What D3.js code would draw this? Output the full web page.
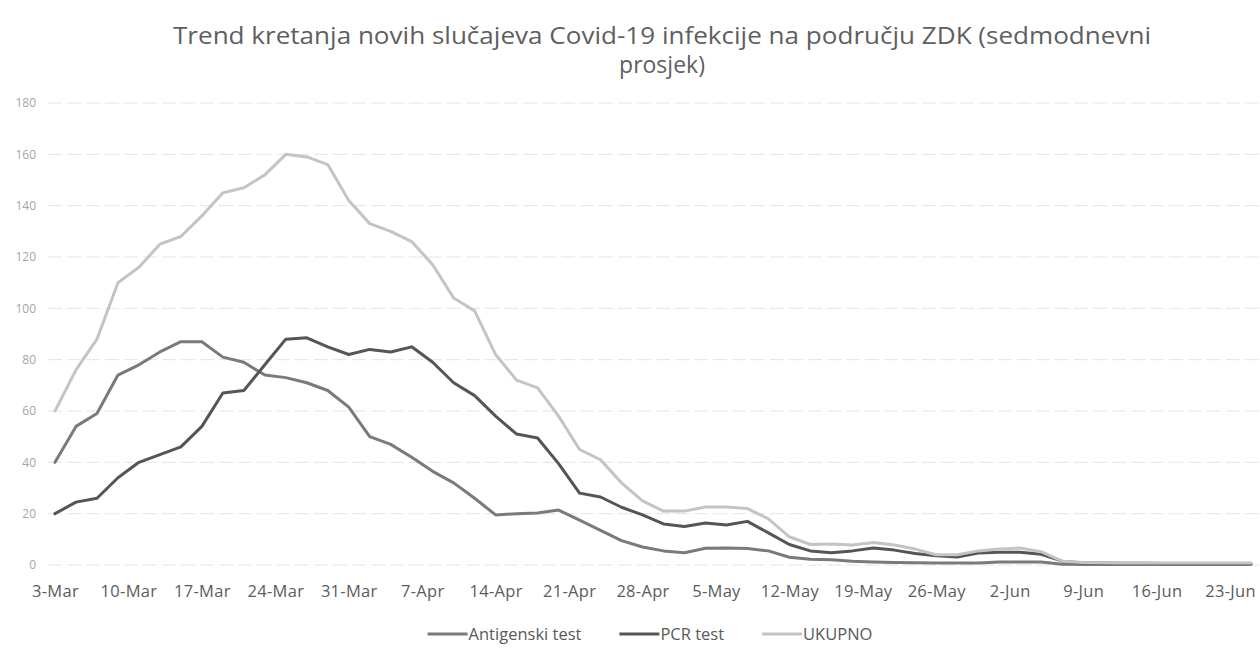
<!DOCTYPE html>
<html>
<head>
<meta charset="utf-8">
<script src="https://cdn.jsdelivr.net/npm/d3@7"></script>
<style>
  html, body { margin: 0; padding: 0; background: #ffffff; }
  svg { display: block; }
</style>
</head>
<body>
<svg id="chart" width="1260" height="656"></svg>
<script>
// ---- Data (7-day averages; one value every 2 days from 3-Mar) ----
const startDate = "2021-03-03";
const stepDays = 2;
const antigenski = [40, 54, 59, 74, 78, 83, 87, 87, 81, 79, 74, 73, 71, 68, 61.5, 50, 47, 42, 36.5, 32,
  26, 19.5, 20, 20.3, 21.4, 17.5, 13.5, 9.5, 7, 5.5, 4.8, 6.5, 6.6, 6.4, 5.5, 3, 2.2, 2, 1.5, 1.2,
  1, 0.9, 0.8, 0.8, 0.8, 1.2, 1.2, 1.2, 0.3, 0.2, 0.2, 0.2, 0.2, 0.2, 0.2, 0.2, 0.2, 0.2];
const pcr = [20, 24.5, 26, 34, 40, 43, 46, 54, 67, 68, 78, 88, 88.5, 85, 82, 84, 83, 85, 79, 71,
  66, 58, 51, 49.5, 39.5, 28, 26.5, 22.5, 19.5, 16, 15, 16.4, 15.6, 17, 12.5, 8, 5.5, 4.8, 5.5, 6.6,
  5.8, 4.5, 3.6, 3.1, 4.7, 5, 5, 4.2, 1.5, 0.8, 0.8, 0.7, 0.7, 0.6, 0.6, 0.6, 0.6, 0.6];
const ukupno = [60, 76, 88, 110, 116, 125, 128, 136, 145, 147, 152, 160, 159, 156, 142, 133, 130, 126, 117, 104,
  99, 82, 72, 69, 58, 45, 41, 32, 25, 21, 21, 22.6, 22.6, 22, 18, 11, 8, 8.2, 7.8, 8.8,
  7.8, 6.2, 4, 4, 5.5, 6.2, 6.6, 5.2, 1.5, 1, 0.9, 0.8, 0.8, 0.8, 0.8, 0.8, 0.8, 0.8];
const seriesNames = ["Antigenski test", "PCR test", "UKUPNO"];
const seriesColors = ["#7a7a7a", "#555555", "#c4c4c4"];
const yTicks = [0, 20, 40, 60, 80, 100, 120, 140, 160, 180];
const xTickStart = "2021-03-03";
const xTickEnd = "2021-06-23";
const titleLines = ["Trend kretanja novih slučajeva Covid-19 infekcije na području ZDK (sedmodnevni", "prosjek)"];

// ---- Build ----
const parse = d3.timeParse("%Y-%m-%d");
const t0 = parse(startDate);
const dates = antigenski.map((_, i) => d3.timeDay.offset(t0, i * stepDays));
const series = [antigenski, pcr, ukupno].map((vals, s) => ({
  name: seriesNames[s], color: seriesColors[s],
  points: vals.map((v, i) => ({ date: dates[i], value: v }))
}));

const svg = d3.select("#chart");
const x = d3.scaleTime()
  .domain([parse(xTickStart), parse(xTickEnd)])
  .range([55, 1230]);
const y = d3.scaleLinear().domain([0, 180]).range([565, 103]);

const font = "'Open Sans', 'Liberation Sans', sans-serif";

// Title
const tt = svg.append("g").selectAll("text").data(titleLines).join("text")
  .attr("x", 662).attr("y", (d, i) => 44 + i * 29)
  .attr("text-anchor", "middle")
  .attr("font-family", font).attr("font-size", 23)
  .attr("fill", "#5f5f5f")
  .text(d => d);
tt.filter((d, i) => i === 0).attr("textLength", 978).attr("lengthAdjust", "spacingAndGlyphs");

// Gridlines
svg.append("g").selectAll("line").data(yTicks).join("line")
  .attr("x1", 48).attr("x2", 1260)
  .attr("y1", d => y(d)).attr("y2", d => y(d))
  .attr("stroke", "#e4e4e4").attr("stroke-width", 1)
  .attr("stroke-dasharray", "14 5");

// Y axis (labels only)
const yAxis = d3.axisLeft(y).tickValues(yTicks).tickSize(0).tickPadding(0);
const gy = svg.append("g").attr("transform", "translate(36,0)").call(yAxis);
gy.select(".domain").remove();
gy.selectAll("text").attr("font-family", font).attr("font-size", 12).attr("fill", "#a6a6a6");

// X axis (labels only)
const xTickValues = d3.timeDay.range(parse(xTickStart), d3.timeDay.offset(parse(xTickEnd), 1), 7);
const xAxis = d3.axisBottom(x).tickValues(xTickValues).tickFormat(d3.timeFormat("%-d-%b")).tickSize(0).tickPadding(0);
const gx = svg.append("g").attr("transform", "translate(0,585)").call(xAxis);
gx.select(".domain").remove();
gx.selectAll("text").attr("font-family", font).attr("font-size", 16.5).attr("fill", "#5c5c5c")
  .attr("letter-spacing", 0.3);

// Lines
const line = d3.line().x(d => x(d.date)).y(d => y(d.value)).curve(d3.curveLinear);
svg.append("g").selectAll("path").data(series).join("path")
  .attr("d", d => line(d.points))
  .attr("fill", "none")
  .attr("stroke", d => d.color)
  .attr("stroke-width", 3)
  .attr("stroke-linejoin", "round")
  .attr("stroke-linecap", "round");

// Legend (laid out from measured text widths, centered)
const lgRoot = svg.append("g");
const items = lgRoot.selectAll("g").data(series).join("g");
items.append("line").attr("x1", 0).attr("x2", 40).attr("y1", -6).attr("y2", -6)
  .attr("stroke", d => d.color).attr("stroke-width", 3);
items.append("text").attr("x", 41).attr("y", 0)
  .attr("font-family", font).attr("font-size", 16.5).attr("fill", "#595959")
  .text(d => d.name);
const widths = [];
items.each(function () { widths.push(41 + d3.select(this).select("text").node().getComputedTextLength()); });
const gap = 38;
const total = d3.sum(widths) + gap * (widths.length - 1);
let cx = 650 - total / 2;
items.attr("transform", (d, i) => {
  const t = `translate(${cx},640)`;
  cx += widths[i] + gap;
  return t;
});
</script>
</body>
</html>
